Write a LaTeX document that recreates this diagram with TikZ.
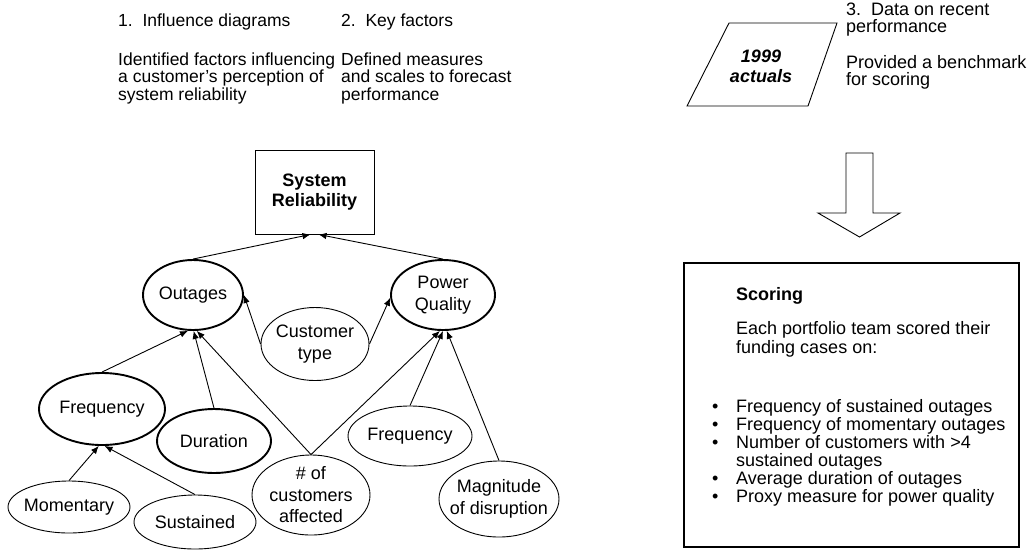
\documentclass[tikz,border=0pt]{standalone}
\usepackage{fontspec}
\setmainfont{Liberation Sans}
\usetikzlibrary{shapes.geometric,arrows.meta}

\begin{document}
\begin{tikzpicture}[x=1pt,y=-1pt,
  every node/.style={font=\fontsize{18pt}{21.5pt}\selectfont, inner sep=0pt},
  oval/.style={draw, ellipse, line width=0.9pt},
  keyoval/.style={oval, line width=1.9pt},
  txt/.style={label={[align=center]center:#1}},
  infl/.style={-{Latex[length=8pt,width=6.5pt]}, line width=0.9pt},
  line/.style={anchor=base west},
  headline/.style={anchor=base west, font=\fontsize{17.5pt}{20pt}\selectfont},
  bullet/.style={anchor=base west}
]
\useasboundingbox (0,0) rectangle (1035,550);

% column headings
\node[headline] (h1) at (118,26) {1.\ \ Influence diagrams};
\node[headline] (h1a) at (118,65) {Identified factors influencing};
\node[headline] (h1b) at (118,82.5) {a customer’s perception of};
\node[headline] (h1c) at (118,100) {system reliability};

\node[headline] (h2) at (341,26) {2.\ \ Key factors};
\node[headline] (h2a) at (341,65) {Defined measures};
\node[headline] (h2b) at (341,82.5) {and scales to forecast};
\node[headline] (h2c) at (341,100) {performance};

\node[line] (h3) at (846,15) {3.\ \ Data on recent};
\node[line] (h3a) at (846,32) {performance};
\node[line] (h3b) at (846,68) {Provided a benchmark};
\node[line] (h3c) at (846,85) {for scoring};

% data input
\draw[line width=0.9pt] (729,23) -- (837,23) -- (808,106) -- (687,106) -- cycle;
\node[align=center, font=\fontsize{18pt}{20pt}\selectfont\bfseries\itshape] (act) at (761,66) {1999\\actuals};

% block arrow down to scoring
\draw[line width=0.9pt] (846,153) -- (873,153) -- (873,213) -- (900,213) -- (859.5,237)
  -- (818,213) -- (846,213) -- cycle;

% scoring panel
\node[draw, line width=1.6pt, minimum width=335pt, minimum height=284pt] (score) at (851.5,405) {};
\node[line, font=\fontsize{18pt}{21.5pt}\selectfont\bfseries] (sc) at (736,300) {Scoring};
\node[line] (sc1) at (736,334) {Each portfolio team scored their};
\node[line] (sc2) at (736,353) {funding cases on:};
\foreach \y/\t [count=\i] in {412/Frequency of sustained outages,
    430/Frequency of momentary outages,
    448/Number of customers with >4,
    484/Average duration of outages,
    502/Proxy measure for power quality}{
  \node[bullet] (b\i) at (712,\y) {•};
  \node[line] (s\i) at (736,\y) {\t};
}
\node[line] (s3b) at (736,466) {sustained outages};

% influence diagram
\node[draw, line width=0.9pt, minimum width=119pt, minimum height=84pt, align=center,
      font=\fontsize{18pt}{20pt}\selectfont\bfseries] (sr) at (314.5,192) {System\\Reliability};

\node[keyoval, minimum width=100pt, minimum height=70pt, txt={Outages}] (out) at (193,295) {};
\node[keyoval, minimum width=104pt, minimum height=70pt, txt={Power\\Quality}] (pq) at (443,295) {};
\node[oval, minimum width=108pt, minimum height=73pt, txt={Customer\\type}] (ct) at (315,344) {};
\node[keyoval, minimum width=126pt, minimum height=72pt, txt={Frequency}] (fl) at (102,409) {};
\node[keyoval, minimum width=114pt, minimum height=64pt, txt={Duration}] (dur) at (214,441) {};
\node[oval, minimum width=122pt, minimum height=52pt, txt={Momentary}] (mom) at (69,507) {};
\node[oval, minimum width=122pt, minimum height=54pt, txt={Sustained}] (sus) at (195,522) {};
\node[oval, minimum width=118pt, minimum height=80pt, txt={\#\ of\\customers\\affected}] (na) at (311,495) {};
\node[oval, minimum width=124pt, minimum height=60pt, txt={Frequency}] (fr) at (410,436) {};
\node[oval, minimum width=120pt, minimum height=76pt, txt={Magnitude\\of disruption}] (mag) at (499,499) {};

% influences
\draw[infl] (out.north) -- ([xshift=-4pt]sr.south);
\draw[infl] (pq.north) -- ([xshift=4pt]sr.south);
\draw[infl] (ct.west) -- (out.east);
\draw[infl] (ct.east) -- (pq.183);
\draw[infl] (fl.north) -- (out.262);
\draw[infl] (dur.north) -- (out.271);
\draw[infl] (na.north) -- (out.276);
\draw[infl] (na.north) -- (pq.265);
\draw[infl] (fr.north) -- (pq.270);
\draw[infl] (mag.north) -- (pq.276);
\draw[infl] (mom.north) -- (fl.265);
\draw[infl] (sus.north) -- (fl.274);
\end{tikzpicture}
\end{document}
